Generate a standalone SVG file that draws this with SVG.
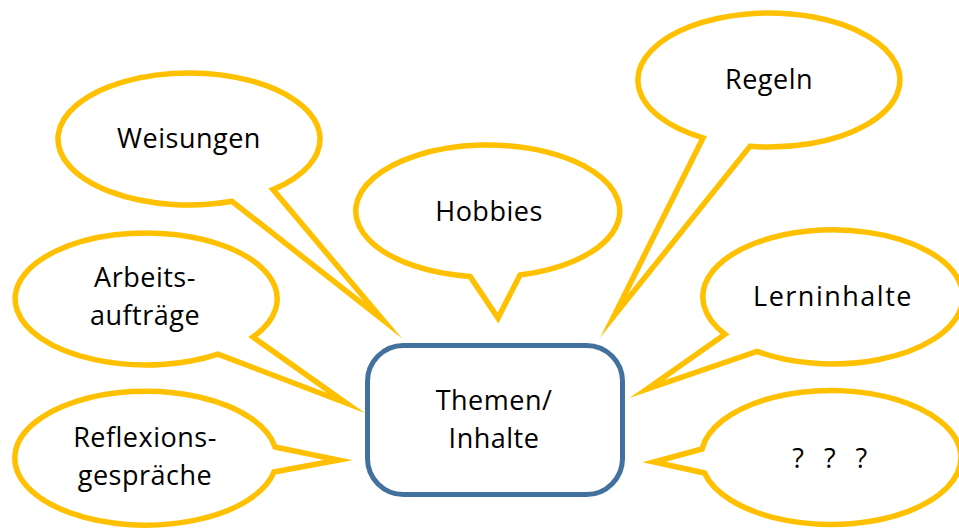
<svg xmlns="http://www.w3.org/2000/svg" width="959" height="529" viewBox="0 0 959 529">
<style>
.callout{fill:#fff;stroke:#FFC000;stroke-width:5.5;stroke-linejoin:miter;stroke-miterlimit:20}
.box{fill:#fff;stroke:#41719C;stroke-width:5}
text{font-family:"Open Sans","Noto Sans","Liberation Sans",sans-serif;font-size:27px;fill:#000;text-anchor:middle;letter-spacing:0.5px}
text.wide{word-spacing:12px}
text.spread{letter-spacing:1.5px}
</style>
<rect width="959" height="529" fill="#fff"/>
<g id="weisungen">
<path class="callout" d="M232 201.3 L383 320 L273 189.6 A131 66 0 1 0 232 201.3 Z"/>
<text x="189" y="148">Weisungen</text>
</g>
<g id="hobbies">
<path class="callout" d="M470 276.4 L498 318 L520 275 A132 66 0 1 0 470 276.4 Z"/>
<text x="489" y="221">Hobbies</text>
</g>
<g id="regeln">
<path class="callout" d="M703 137.9 L614 316 L750 146.3 A131 67 0 1 0 703 137.9 Z"/>
<text x="769" y="89">Regeln</text>
</g>
<g id="lerninhalte">
<path class="callout" d="M725 334.3 L647 389 L757 351.3 A130 67 0 1 0 725 334.3 Z"/>
<text class="spread" x="833" y="306">Lerninhalte</text>
</g>
<g id="arbeitsauftraege">
<path class="callout" d="M253 337.1 L346 403 L218 354.1 A131 66 0 1 1 253 337.1 Z"/>
<text x="145" y="287">Arbeits-</text>
<text x="145" y="325">aufträge</text>
</g>
<g id="reflexionsgespraeche">
<path class="callout" d="M275 447 L338.5 460 L274 472 A131 67 0 1 1 275 447 Z"/>
<text x="145" y="447">Reflexions-</text>
<text x="145" y="485">gespräche</text>
</g>
<g id="fragen">
<path class="callout" d="M702 449 L654 462 L704.5 473 A130 67 0 1 0 702 449 Z"/>
<text class="wide" x="830" y="468">? ? ?</text>
</g>
<g id="themen">
<rect class="box" x="367.5" y="345.5" width="255" height="149" rx="36" ry="36"/>
<text x="494" y="410">Themen/</text>
<text x="494" y="448">Inhalte</text>
</g>
</svg>
